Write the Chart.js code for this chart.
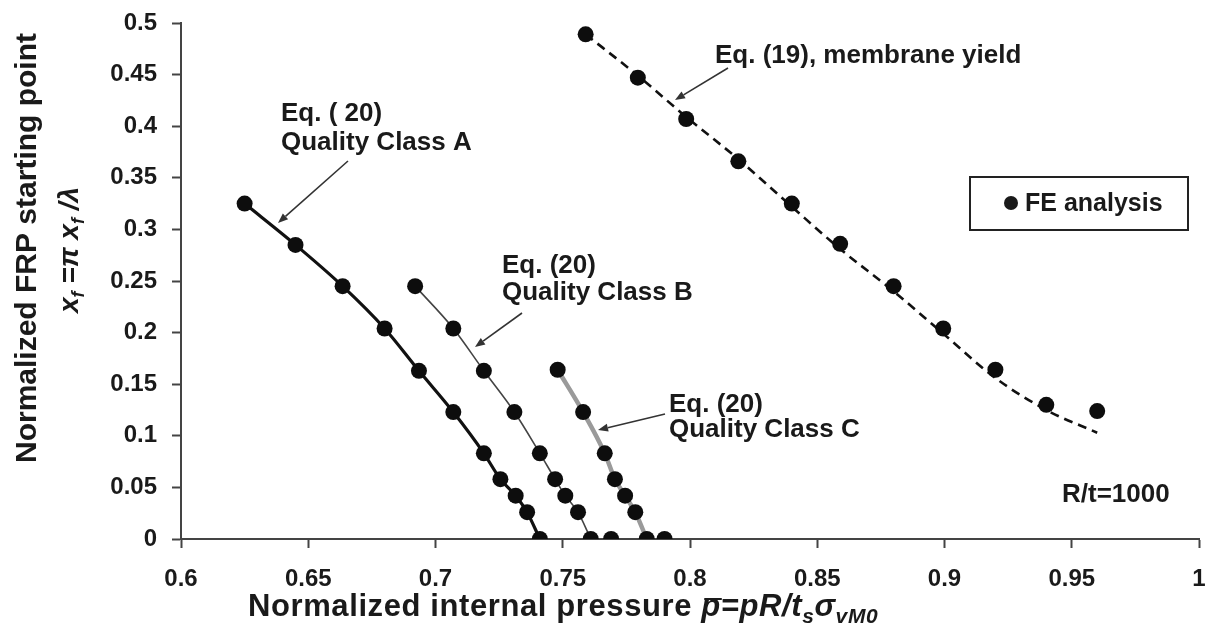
<!DOCTYPE html>
<html><head><meta charset="utf-8">
<script src="https://cdn.jsdelivr.net/npm/chart.js@4.4.0/dist/chart.umd.min.js"></script>
<style>html,body{margin:0;padding:0;background:#fff;}#wrap{width:1211px;height:639px;}</style>
</head><body><div id="wrap"><canvas id="c" width="1211" height="639"></canvas></div>
<script>
// ---- tick labels ----
const xTickLabels = ['0.6','0.65','0.7','0.75','0.8','0.85','0.9','0.95','1'];
const yTickLabels = ['0','0.05','0.1','0.15','0.2','0.25','0.3','0.35','0.4','0.45','0.5'];

// ---- FE analysis points ----
const feA_x = [0.625,0.645,0.6635,0.680,0.6935,0.707,0.719,0.7255,0.7315,0.736,0.741];
const feA_y = [0.325,0.285,0.245,0.204,0.163,0.123,0.083,0.058,0.042,0.026,0];
const feB_x = [0.692,0.707,0.719,0.731,0.741,0.747,0.751,0.756,0.761,0.769];
const feB_y = [0.245,0.204,0.163,0.123,0.083,0.058,0.042,0.026,0,0];
const feC_x = [0.748,0.758,0.7665,0.7705,0.7745,0.7785,0.783,0.790];
const feC_y = [0.164,0.123,0.083,0.058,0.042,0.026,0,0];
const feM_x = [0.759,0.7795,0.7985,0.819,0.840,0.859,0.880,0.8995,0.920,0.940,0.960];
const feM_y = [0.489,0.447,0.407,0.366,0.325,0.286,0.245,0.204,0.164,0.130,0.124];

// ---- equation curves ----
const eqA_x = [0.625,0.645,0.6635,0.680,0.6935,0.707,0.719,0.7255,0.7315,0.736,0.741];
const eqA_y = [0.325,0.285,0.245,0.204,0.163,0.123,0.083,0.058,0.042,0.026,0];
const eqB_x = [0.692,0.707,0.719,0.731,0.741,0.747,0.751,0.756,0.761];
const eqB_y = [0.245,0.204,0.163,0.123,0.083,0.058,0.042,0.026,0];
const eqC_x = [0.748,0.758,0.7665,0.7705,0.7745,0.7785,0.783];
const eqC_y = [0.164,0.123,0.083,0.058,0.042,0.026,0];
const eqM_x = [0.759,0.7795,0.7985,0.819,0.840,0.859,0.880,0.8995,0.920,0.940,0.960];
const eqM_y = [0.489,0.449,0.409,0.368,0.322,0.281,0.240,0.199,0.156,0.125,0.103];

const pts = (xs, ys) => xs.map((x, i) => ({x: x, y: ys[i]}));
const feAll = [].concat(pts(feA_x, feA_y), pts(feB_x, feB_y), pts(feC_x, feC_y), pts(feM_x, feM_y));

const FONT = '"Liberation Sans", Arial, sans-serif';

function runsWidth(ctx, runs) {
  let w = 0;
  for (const r of runs) { ctx.font = r.font; w += ctx.measureText(r.t).width; }
  return w;
}
function drawRuns(ctx, runs, x, y) {
  for (const r of runs) {
    ctx.font = r.font;
    const w = ctx.measureText(r.t).width;
    ctx.fillText(r.t, x, y + (r.dy || 0));
    if (r.bar) {
      ctx.save(); ctx.lineWidth = 2; ctx.strokeStyle = ctx.fillStyle;
      ctx.beginPath(); ctx.moveTo(x + 3, y - r.bar); ctx.lineTo(x + w + 1, y - r.bar); ctx.stroke(); ctx.restore();
    }
    x += w;
  }
}
function arrow(ctx, x1, y1, x2, y2) {
  ctx.save();
  ctx.strokeStyle = '#333'; ctx.fillStyle = '#333'; ctx.lineWidth = 1.6;
  const a = Math.atan2(y2 - y1, x2 - x1), L = 10, W = 4;
  const bx = x2 - L * Math.cos(a), by = y2 - L * Math.sin(a);
  ctx.beginPath(); ctx.moveTo(x1, y1); ctx.lineTo(bx, by); ctx.stroke();
  ctx.beginPath(); ctx.moveTo(x2, y2);
  ctx.lineTo(bx + W * Math.sin(a), by - W * Math.cos(a));
  ctx.lineTo(bx - W * Math.sin(a), by + W * Math.cos(a));
  ctx.closePath(); ctx.fill();
  ctx.restore();
}

const decor = {
  id: 'decor',
  afterDraw(chart) {
    const ctx = chart.ctx;
    ctx.save();
    ctx.fillStyle = '#1a1a1a';
    ctx.textBaseline = 'alphabetic';
    ctx.textAlign = 'left';
    const B26 = 'bold 26px ' + FONT;
    // annotations
    ctx.font = B26;
    ctx.fillText('Eq. ( 20)', 281, 121);
    ctx.fillText('Quality Class A', 281, 150);
    arrow(ctx, 348, 161, 278, 223);
    ctx.fillText('Eq. (20)', 502, 273);
    ctx.fillText('Quality Class B', 502, 300);
    arrow(ctx, 522, 313, 475, 347);
    ctx.fillText('Eq. (20)', 669, 412);
    ctx.fillText('Quality Class C', 669, 437);
    arrow(ctx, 665, 414, 598, 430);
    ctx.fillText('Eq. (19), membrane yield', 715, 63);
    arrow(ctx, 728, 68, 675, 100);
    ctx.fillText('R/t=1000', 1062, 502);

    // legend
    ctx.strokeStyle = '#222'; ctx.lineWidth = 2;
    ctx.strokeRect(970, 177, 218, 53);
    ctx.beginPath(); ctx.arc(1011, 203, 7, 0, Math.PI * 2); ctx.fill();
    ctx.font = 'bold 25px ' + FONT;
    ctx.fillText('FE analysis', 1025, 211);

    // x-axis title
    const bi = s => 'italic bold ' + s + 'px ' + FONT;
    const xRuns = [
      {t: 'Normalized internal pressure ', font: 'bold 31px ' + FONT},
      {t: 'p', font: bi(31), bar: 17},
      {t: '=', font: bi(31)},
      {t: 'pR/t', font: bi(31)},
      {t: 's', font: bi(21), dy: 7},
      {t: 'σ', font: bi(31)},
      {t: 'vM0', font: bi(21), dy: 7}
    ];
    ctx.letterSpacing = '0.6px';
    drawRuns(ctx, xRuns, 248, 616);
    ctx.letterSpacing = '0px';

    // y-axis title (two lines, rotated)
    const yRuns1 = [{t: 'Normalized FRP starting point', font: 'bold 30px ' + FONT}];
    ctx.save();
    ctx.translate(36, 248); ctx.rotate(-Math.PI / 2);
    drawRuns(ctx, yRuns1, -runsWidth(ctx, yRuns1) / 2, 0);
    ctx.restore();
    const yRuns2 = [
      {t: 'x', font: bi(28)}, {t: 'f', font: bi(18), dy: 6},
      {t: ' =', font: bi(28)}, {t: 'π ', font: bi(28)},
      {t: 'x', font: bi(28)}, {t: 'f', font: bi(18), dy: 6},
      {t: ' /', font: bi(28)}, {t: 'λ', font: bi(28)}
    ];
    ctx.save();
    ctx.translate(78, 250); ctx.rotate(-Math.PI / 2);
    drawRuns(ctx, yRuns2, -runsWidth(ctx, yRuns2) / 2, 0);
    ctx.restore();
    ctx.restore();
  }
};

const lineDs = (label, xs, ys, color, width, extra) => Object.assign({
  type: 'line', label: label, data: pts(xs, ys), borderColor: color, borderWidth: width,
  pointRadius: 0, showLine: true, fill: false, tension: 0.3, cubicInterpolationMode: 'monotone'
}, extra || {});

new Chart(document.getElementById('c'), {
  type: 'scatter',
  data: {
    datasets: [
      {label: 'FE analysis', data: feAll, pointRadius: 8, pointHoverRadius: 8,
       backgroundColor: '#0d0d0d', borderColor: '#0d0d0d', borderWidth: 0, showLine: false, order: 0},
      lineDs('Eq. (20) Quality Class A', eqA_x, eqA_y, '#111', 3.2, {order: 1}),
      lineDs('Eq. (20) Quality Class B', eqB_x, eqB_y, '#444', 1.6, {order: 2}),
      lineDs('Eq. (20) Quality Class C', eqC_x, eqC_y, '#9a9a9a', 4.5, {order: 3}),
      lineDs('Eq. (19), membrane yield', eqM_x, eqM_y, '#111', 2.6, {order: 4, borderDash: [9, 6]})
    ]
  },
  options: {
    responsive: false, animation: false, devicePixelRatio: 1,
    layout: {padding: {left: 0, right: 12, top: 23, bottom: 0}},
    plugins: {legend: {display: false}, tooltip: {enabled: false}},
    scales: {
      x: {
        type: 'linear', min: 0.6, max: 1,
        afterFit: s => { s.height = 100; s.paddingLeft = 0; s.paddingRight = 0; },
        ticks: {stepSize: 0.05, padding: 17, color: '#1a1a1a', font: {family: FONT, size: 24, weight: 'bold'},
                maxRotation: 0, autoSkip: false, callback: (v, i) => xTickLabels[i]},
        grid: {display: true, drawOnChartArea: false, drawTicks: true, tickLength: 9, color: '#444', tickWidth: 2},
        border: {display: true, color: '#444', width: 2}
      },
      y: {
        type: 'linear', min: 0, max: 0.5,
        afterFit: s => { s.width = 181; s.paddingTop = 0; s.paddingBottom = 0; },
        ticks: {stepSize: 0.05, padding: 15, color: '#1a1a1a', font: {family: FONT, size: 24, weight: 'bold'},
                autoSkip: false, callback: (v, i) => yTickLabels[i]},
        grid: {display: true, drawOnChartArea: false, drawTicks: true, tickLength: 9, color: '#444', tickWidth: 2},
        border: {display: true, color: '#444', width: 2}
      }
    }
  },
  plugins: [decor]
});
</script></body></html>
